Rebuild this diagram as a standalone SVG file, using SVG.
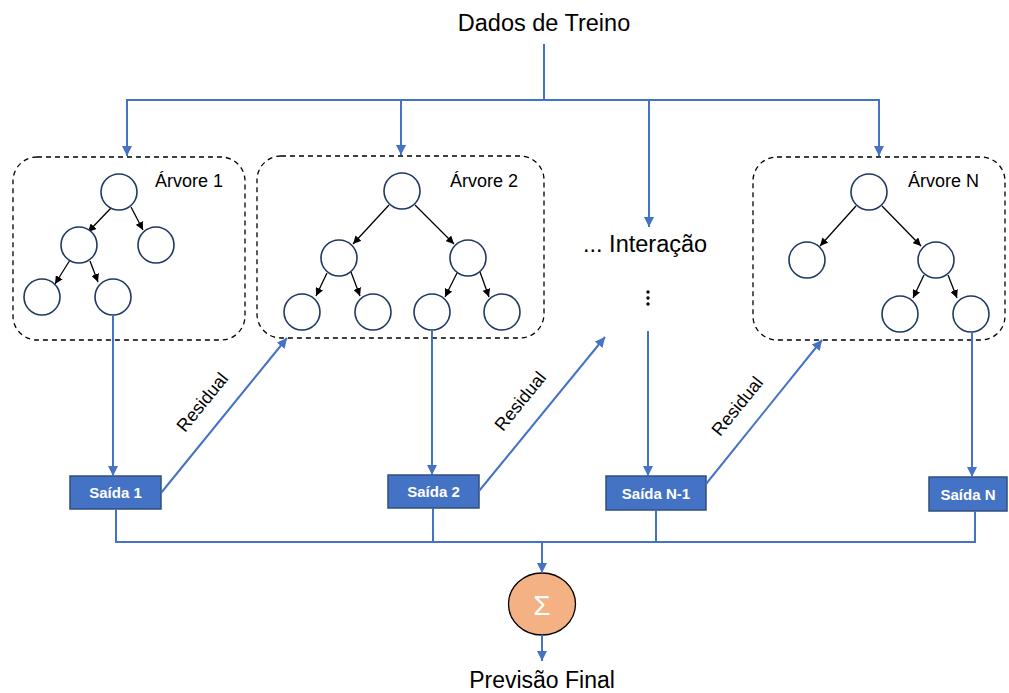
<svg xmlns="http://www.w3.org/2000/svg" width="1009" height="693" viewBox="0 0 1009 693">
  <style>
    .txt { font-family: "Liberation Sans", "Noto Sans", sans-serif; fill: #000; }
    .frame { fill: none; stroke: #000; stroke-width: 1.3; stroke-dasharray: 5 4; }
    .node { fill: #fff; stroke: #1F3864; stroke-width: 1.6; }
    .edge { stroke: #000; stroke-width: 1.3; fill: none; marker-end: url(#blk); }
    .flow { stroke: #4472C4; stroke-width: 2; fill: none; }
    .flowa { stroke: #4472C4; stroke-width: 2; fill: none; marker-end: url(#blue); }
    .out { fill: #4472C4; stroke: #2F4F7F; stroke-width: 1.5; }
    .outt { font-family: "Liberation Sans", "Noto Sans", sans-serif; font-weight: bold; font-size: 15px; fill: #fff; text-anchor: middle; }
    .lbl { font-family: "Liberation Sans", "Noto Sans", sans-serif; font-size: 18px; fill: #000; }
  </style>
  <defs>
    <marker id="blk" viewBox="0 0 10 10" refX="10" refY="5" markerWidth="8" markerHeight="8" markerUnits="userSpaceOnUse" orient="auto">
      <path d="M0,0 L10,5 L0,10 z" fill="#000"/>
    </marker>
    <marker id="blue" viewBox="0 0 10 10" refX="10" refY="5" markerWidth="10" markerHeight="10" markerUnits="userSpaceOnUse" orient="auto">
      <path d="M0,0 L10,5 L0,10 z" fill="#4472C4"/>
    </marker>
  </defs>

  <rect width="1009" height="693" fill="#fff"/>

  <!-- titles -->
  <text class="txt" x="544" y="31" font-size="23.5" text-anchor="middle">Dados de Treino</text>
  <text class="txt" x="542" y="688" font-size="23" text-anchor="middle">Previsão Final</text>

  <!-- tree 1 -->
  <g id="tree1">
    <rect class="frame" x="13" y="157" width="232" height="183" rx="24"/>
    <text class="lbl" x="155" y="187">Árvore 1</text>
    <line class="edge" x1="111" y1="208" x2="88" y2="232"/>
    <line class="edge" x1="131" y1="207" x2="143" y2="230"/>
    <line class="edge" x1="70" y1="260" x2="55" y2="284"/>
    <line class="edge" x1="90" y1="261" x2="98" y2="282"/>
    <circle class="node" cx="119" cy="192" r="18"/>
    <circle class="node" cx="79" cy="245" r="18"/>
    <circle class="node" cx="156" cy="245" r="18"/>
    <circle class="node" cx="42" cy="297" r="18"/>
    <circle class="node" cx="113" cy="297" r="18"/>
  </g>

  <!-- tree 2 -->
  <g id="tree2">
    <rect class="frame" x="257" y="156" width="287" height="182" rx="24"/>
    <text class="lbl" x="450" y="187">Árvore 2</text>
    <line class="edge" x1="389" y1="205" x2="353" y2="244"/>
    <line class="edge" x1="415" y1="205" x2="454" y2="244"/>
    <line class="edge" x1="327" y1="273" x2="316" y2="296"/>
    <line class="edge" x1="351" y1="272" x2="360" y2="296"/>
    <line class="edge" x1="457" y1="273" x2="445" y2="297"/>
    <line class="edge" x1="480" y1="272" x2="489" y2="297"/>
    <circle class="node" cx="402" cy="191" r="18"/>
    <circle class="node" cx="339" cy="258" r="18"/>
    <circle class="node" cx="468" cy="258" r="18"/>
    <circle class="node" cx="302" cy="312" r="18"/>
    <circle class="node" cx="373" cy="312" r="18"/>
    <circle class="node" cx="432" cy="312" r="18"/>
    <circle class="node" cx="502" cy="312" r="18"/>
  </g>

  <!-- tree N -->
  <g id="treeN">
    <rect class="frame" x="753" y="157" width="252" height="183" rx="24"/>
    <text class="lbl" x="908" y="187">Árvore N</text>
    <line class="edge" x1="856" y1="206" x2="820" y2="246"/>
    <line class="edge" x1="882" y1="206" x2="921" y2="246"/>
    <line class="edge" x1="924" y1="275" x2="913" y2="298"/>
    <line class="edge" x1="948" y1="275" x2="957" y2="298"/>
    <circle class="node" cx="869" cy="192" r="18"/>
    <circle class="node" cx="807" cy="260" r="18"/>
    <circle class="node" cx="936" cy="260" r="18"/>
    <circle class="node" cx="900" cy="314" r="18"/>
    <circle class="node" cx="971" cy="314" r="18"/>
  </g>

  <!-- iteration marker -->
  <g id="iteration">
    <text class="txt" x="583" y="252" font-size="23.5">... Interação</text>
    <circle cx="648" cy="292" r="1.7" fill="#000"/>
    <circle cx="648" cy="298" r="1.7" fill="#000"/>
    <circle cx="648" cy="304" r="1.7" fill="#000"/>
  </g>

  <!-- outputs -->
  <g id="out1">
    <rect class="out" x="70" y="476" width="91" height="33"/>
    <text class="outt" x="115.5" y="498">Saída 1</text>
  </g>
  <g id="out2">
    <rect class="out" x="388" y="475" width="91" height="33"/>
    <text class="outt" x="433.5" y="497">Saída 2</text>
  </g>
  <g id="outN1">
    <rect class="out" x="606" y="476" width="100" height="34"/>
    <text class="outt" x="656" y="498.5">Saída N-1</text>
  </g>
  <g id="outN">
    <rect class="out" x="929" y="477" width="78" height="34"/>
    <text class="outt" x="968" y="499.5">Saída N</text>
  </g>

  <!-- sum -->
  <g id="sum">
    <ellipse cx="542" cy="604" rx="33.5" ry="31" fill="#F4B183" stroke="#000" stroke-width="1.3"/>
    <text x="542" y="615" font-family="Liberation Sans, Noto Sans, sans-serif" font-size="28" fill="#fff" text-anchor="middle">Σ</text>
  </g>

  <!-- connectors -->
  <g id="connectors">
    <!-- training data distribution -->
    <line class="flow" x1="544" y1="44" x2="544" y2="100"/>
    <line class="flow" x1="126" y1="100" x2="880" y2="100"/>
    <line class="flowa" x1="127" y1="100" x2="127" y2="156"/>
    <line class="flowa" x1="401" y1="100" x2="401" y2="155"/>
    <line class="flowa" x1="649" y1="100" x2="649" y2="227"/>
    <line class="flowa" x1="879" y1="100" x2="879" y2="156"/>

    <!-- leaves to outputs -->
    <line class="flowa" x1="113" y1="315" x2="113" y2="476"/>
    <line class="flowa" x1="432" y1="330" x2="432" y2="475"/>
    <line class="flowa" x1="648" y1="331" x2="648" y2="476"/>
    <line class="flowa" x1="972" y1="332" x2="972" y2="477"/>

    <!-- residuals -->
    <line class="flowa" x1="161" y1="493" x2="287" y2="338"/>
    <line class="flowa" x1="479" y1="491" x2="605" y2="337"/>
    <line class="flowa" x1="706" y1="484" x2="822" y2="340"/>

    <!-- aggregation -->
    <polyline class="flow" points="116,509 116,542 975,542 975,511"/>
    <line class="flow" x1="433" y1="508" x2="433" y2="542"/>
    <line class="flow" x1="656" y1="510" x2="656" y2="542"/>
    <line class="flowa" x1="542" y1="542" x2="542" y2="573"/>
    <line class="flowa" x1="542" y1="635" x2="542" y2="661"/>
  </g>

  <!-- residual labels -->
  <text class="lbl" transform="translate(207,406) rotate(-51)" text-anchor="middle">Residual</text>
  <text class="lbl" transform="translate(525,405) rotate(-51)" text-anchor="middle">Residual</text>
  <text class="lbl" transform="translate(742,410) rotate(-51)" text-anchor="middle">Residual</text>
</svg>
